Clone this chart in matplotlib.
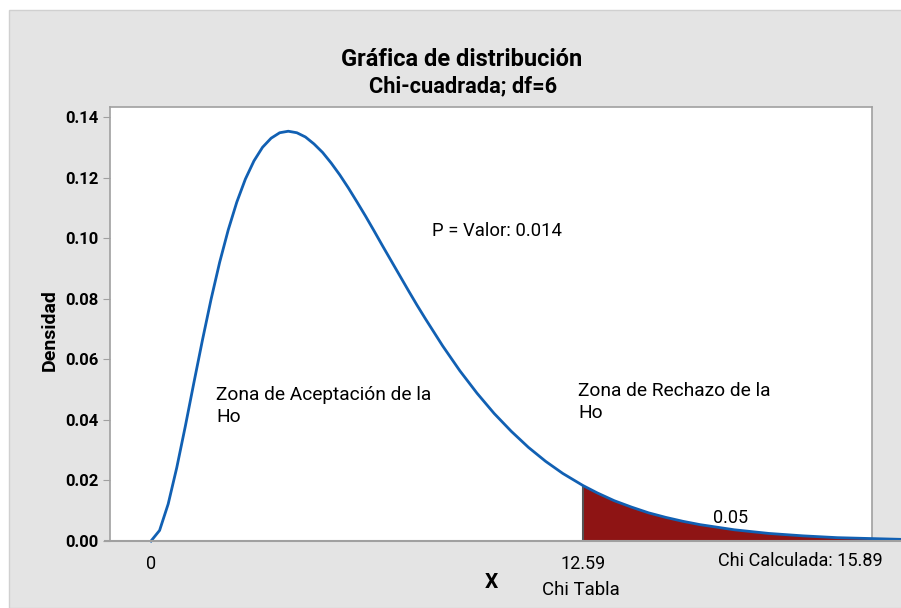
import matplotlib.pyplot as plt
from matplotlib.patches import Rectangle

plt.rcParams['font.family'] = ['Roboto', 'DejaVu Sans']

# === DATA ===
x_vals = [0, 0.25, 0.5, 0.75, 1, 1.25, 1.5, 1.75, 2, 2.25, 2.5, 2.75, 3,
          3.25, 3.5, 3.75, 4, 4.25, 4.5, 4.75, 5, 5.25, 5.5, 5.75, 6, 6.25,
          6.5, 6.75, 7, 7.25, 7.5, 7.75, 8, 8.5, 9, 9.5, 10, 10.5, 11, 11.5,
          12, 12.59, 13, 13.5, 14, 14.5, 15, 15.5, 16, 17, 18, 19, 20, 21, 22]
densidad = [0.0, 0.0035, 0.0122, 0.0242, 0.0379, 0.0523, 0.0664, 0.0798,
            0.0920, 0.1027, 0.1119, 0.1195, 0.1255, 0.1300, 0.1330, 0.1348,
            0.1353, 0.1348, 0.1334, 0.1311, 0.1283, 0.1248, 0.1209, 0.1166,
            0.1120, 0.1073, 0.1024, 0.0974, 0.0925, 0.0876, 0.0827, 0.0779,
            0.0733, 0.0644, 0.0562, 0.0488, 0.0421, 0.0362, 0.0309, 0.0263,
            0.0223, 0.0183, 0.0159, 0.0133, 0.0112, 0.0093, 0.0078, 0.0065,
            0.0054, 0.0037, 0.0025, 0.0017, 0.0011, 0.0008, 0.0005]
chi_tabla = 12.59
chi_calc = 15.89
y_ticks = [0.00, 0.02, 0.04, 0.06, 0.08, 0.10, 0.12, 0.14]

W, H = 901, 608
fig = plt.figure(figsize=(W / 100, H / 100), dpi=100, facecolor='white')

def fx(px):
    return px / W

def fy(py):
    return 1 - py / H

# grey background panel
fig.patches.append(Rectangle((fx(9), 0), 1, fy(10), transform=fig.transFigure,
                             facecolor='#e4e4e4', edgecolor='#d0d0d0', lw=1, zorder=-1))

ax = fig.add_axes([fx(110), fy(541), fx(872) - fx(110), fy(107) - fy(541)])
ax.set_zorder(1)
ax.set_facecolor('white')

# === CURVE AND TAIL ===
ax.plot(x_vals, densidad, color='#1160b3', lw=2, clip_on=False, zorder=4)
tail_x = [x for x in x_vals if x >= chi_tabla and x <= 21]
tail_y = [y for x, y in zip(x_vals, densidad) if x >= chi_tabla and x <= 21]
ax.fill_between(tail_x, tail_y, 0, color='#8e1414', lw=0, zorder=3)
ax.plot([chi_tabla, chi_tabla], [0, tail_y[0]], color='#555555', lw=1.5, zorder=3)

ax.set_xlim(-1.195, 21.01)
ax.set_ylim(0, 0.1433)

# bottom axis line runs past the frame
ax.plot([-1.35, 22], [0, 0], color='#a0a0a0', lw=1.5, clip_on=False, zorder=5)

for side in ['left', 'top', 'right']:
    ax.spines[side].set_color('#a0a0a0')
    ax.spines[side].set_linewidth(1.2)
ax.spines['bottom'].set_visible(False)

ax.set_yticks(y_ticks)
ax.set_yticklabels([f'{v:.2f}' for v in y_ticks], fontsize=12, fontweight='bold')
ax.tick_params(axis='y', length=5, color='#a0a0a0', pad=3)
ax.set_xticks([0, chi_tabla])
ax.set_xticklabels(['0', f'{chi_tabla:.2f}'], fontsize=13)
ax.tick_params(axis='x', length=0, pad=10)

# === TEXT ===
fig.text(fx(462), fy(60), 'Gráfica de distribución', ha='center', va='center',
         fontsize=17, fontweight='bold')
fig.text(fx(463), fy(86), 'Chi-cuadrada; df=6', ha='center', va='center',
         fontsize=15.7, fontweight='bold')
fig.text(fx(50), fy(330), 'Densidad', rotation=90, ha='center', va='center',
         fontsize=14, fontweight='bold')
fig.text(fx(491), fy(583), 'X', ha='center', va='center', fontsize=15, fontweight='bold')
fig.text(fx(581), fy(590), 'Chi Tabla', ha='center', va='center', fontsize=13.4)
fig.text(fx(883), fy(561), f'Chi Calculada: {chi_calc:.2f}', ha='right', va='center',
         fontsize=13.1)

fig.text(fx(432), fy(231), 'P = Valor: 0.014', ha='left', va='center', fontsize=13.3)
fig.text(fx(216), fy(406), 'Zona de Aceptación de la\nHo', ha='left', va='center',
         fontsize=13.8, linespacing=1.35)
fig.text(fx(578), fy(402), 'Zona de Rechazo de la\nHo', ha='left', va='center',
         fontsize=13.8, linespacing=1.35)
fig.text(fx(731), fy(518), '0.05', ha='center', va='center', fontsize=13)

plt.savefig('out.png', dpi=100, facecolor=fig.get_facecolor())
